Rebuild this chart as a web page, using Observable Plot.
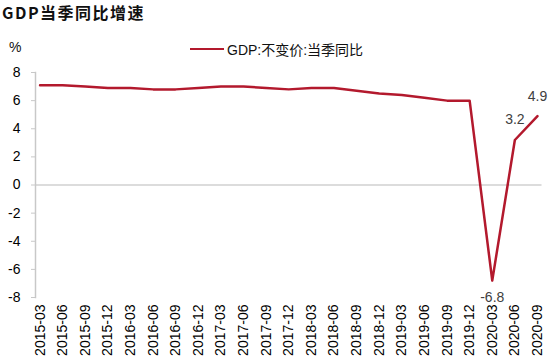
<!DOCTYPE html>
<html><head><meta charset="utf-8">
<script src="https://cdn.jsdelivr.net/npm/d3@7"></script>
<script src="https://cdn.jsdelivr.net/npm/@observablehq/plot@0.6"></script>
<style>
body{margin:0;background:#fff;font-family:Arial,"Liberation Sans","Noto Sans CJK SC",sans-serif;}
#wrap{position:relative;width:550px;height:362px;overflow:hidden;}
#title{position:absolute;left:2px;top:2px;font-family:"Noto Sans CJK SC",sans-serif;font-weight:700;font-size:16px;letter-spacing:1.5px;color:#111;line-height:20px;}
#unit{position:absolute;left:9px;top:39px;font-size:14px;color:#111;}
#legend{position:absolute;left:190px;top:39px;font-size:14px;color:#111;display:flex;align-items:center;}
#legend .sw{width:34px;height:2.5px;background:#b3192d;margin-right:3px;}
#legend span{font-family:"Liberation Sans","Noto Sans CJK SC",sans-serif;}
#chart{position:absolute;left:0;top:36px;}
</style></head>
<body><div id="wrap">
<div id="title">GDP当季同比增速</div>
<div id="unit">%</div>
<div id="legend"><div class="sw"></div><span>GDP:不变价:当季同比</span></div>
<div id="chart"></div>
</div>
<script>
const quarters = ["2015-03","2015-06","2015-09","2015-12","2016-03","2016-06","2016-09","2016-12",
  "2017-03","2017-06","2017-09","2017-12","2018-03","2018-06","2018-09","2018-12",
  "2019-03","2019-06","2019-09","2019-12","2020-03","2020-06","2020-09"];
const gdpYoY = [7.1,7.1,7.0,6.9,6.9,6.8,6.8,6.9,7.0,7.0,6.9,6.8,6.9,6.9,6.7,6.5,6.4,6.2,6.0,6.0,-6.8,3.2,4.9];
const yTicks = [-8,-6,-4,-2,0,2,4,6,8];
const labeled = ["2020-03","2020-06","2020-09"];

const data = quarters.map((q,i)=>({i, q, v: gdpYoY[i]}));
const lab = data.filter(d=>labeled.includes(d.q));
const red = "#b3192d";

const plot = Plot.plot({
  width: 550, height: 326,
  marginLeft: 35, marginRight: 8.5, marginTop: 36, marginBottom: 65,
  style: {fontFamily: "Arial, 'Liberation Sans', sans-serif", fontSize: "14px", color: "#000"},
  x: {type: "linear", domain: [-0.2, quarters.length - 0.8]},
  y: {domain: [-8, 8]},
  marks: [
    Plot.ruleY([0], {stroke: "#d0d0d0", strokeWidth: 1.5}),
    Plot.frame({anchor: "left", stroke: "#c8c8c8", strokeWidth: 1.5}),
    Plot.axisY({ticks: yTicks, tickSize: 4, tickPadding: 11, stroke: "#c8c8c8", tickFormat: d => String(d), label: null, fontSize: 14}),
    Plot.axisX({ticks: d3.range(quarters.length), tickFormat: i => quarters[i], tickRotate: -90, tickSize: 0, tickPadding: 7, label: null, fontSize: 14}),
    Plot.line(data, {x: "i", y: "v", stroke: red, strokeWidth: 2.5}),
    Plot.text(lab.filter(d=>d.v<0), {x: "i", y: "v", text: d => d.v.toFixed(1), dy: 17, fill: "#404040", fontSize: 14}),
    Plot.text(lab.filter(d=>d.v>=0), {x: "i", y: "v", text: d => d.v.toFixed(1), dy: -20, fill: "#404040", fontSize: 14})
  ]
});
document.getElementById("chart").appendChild(plot);
</script>
</body></html>
